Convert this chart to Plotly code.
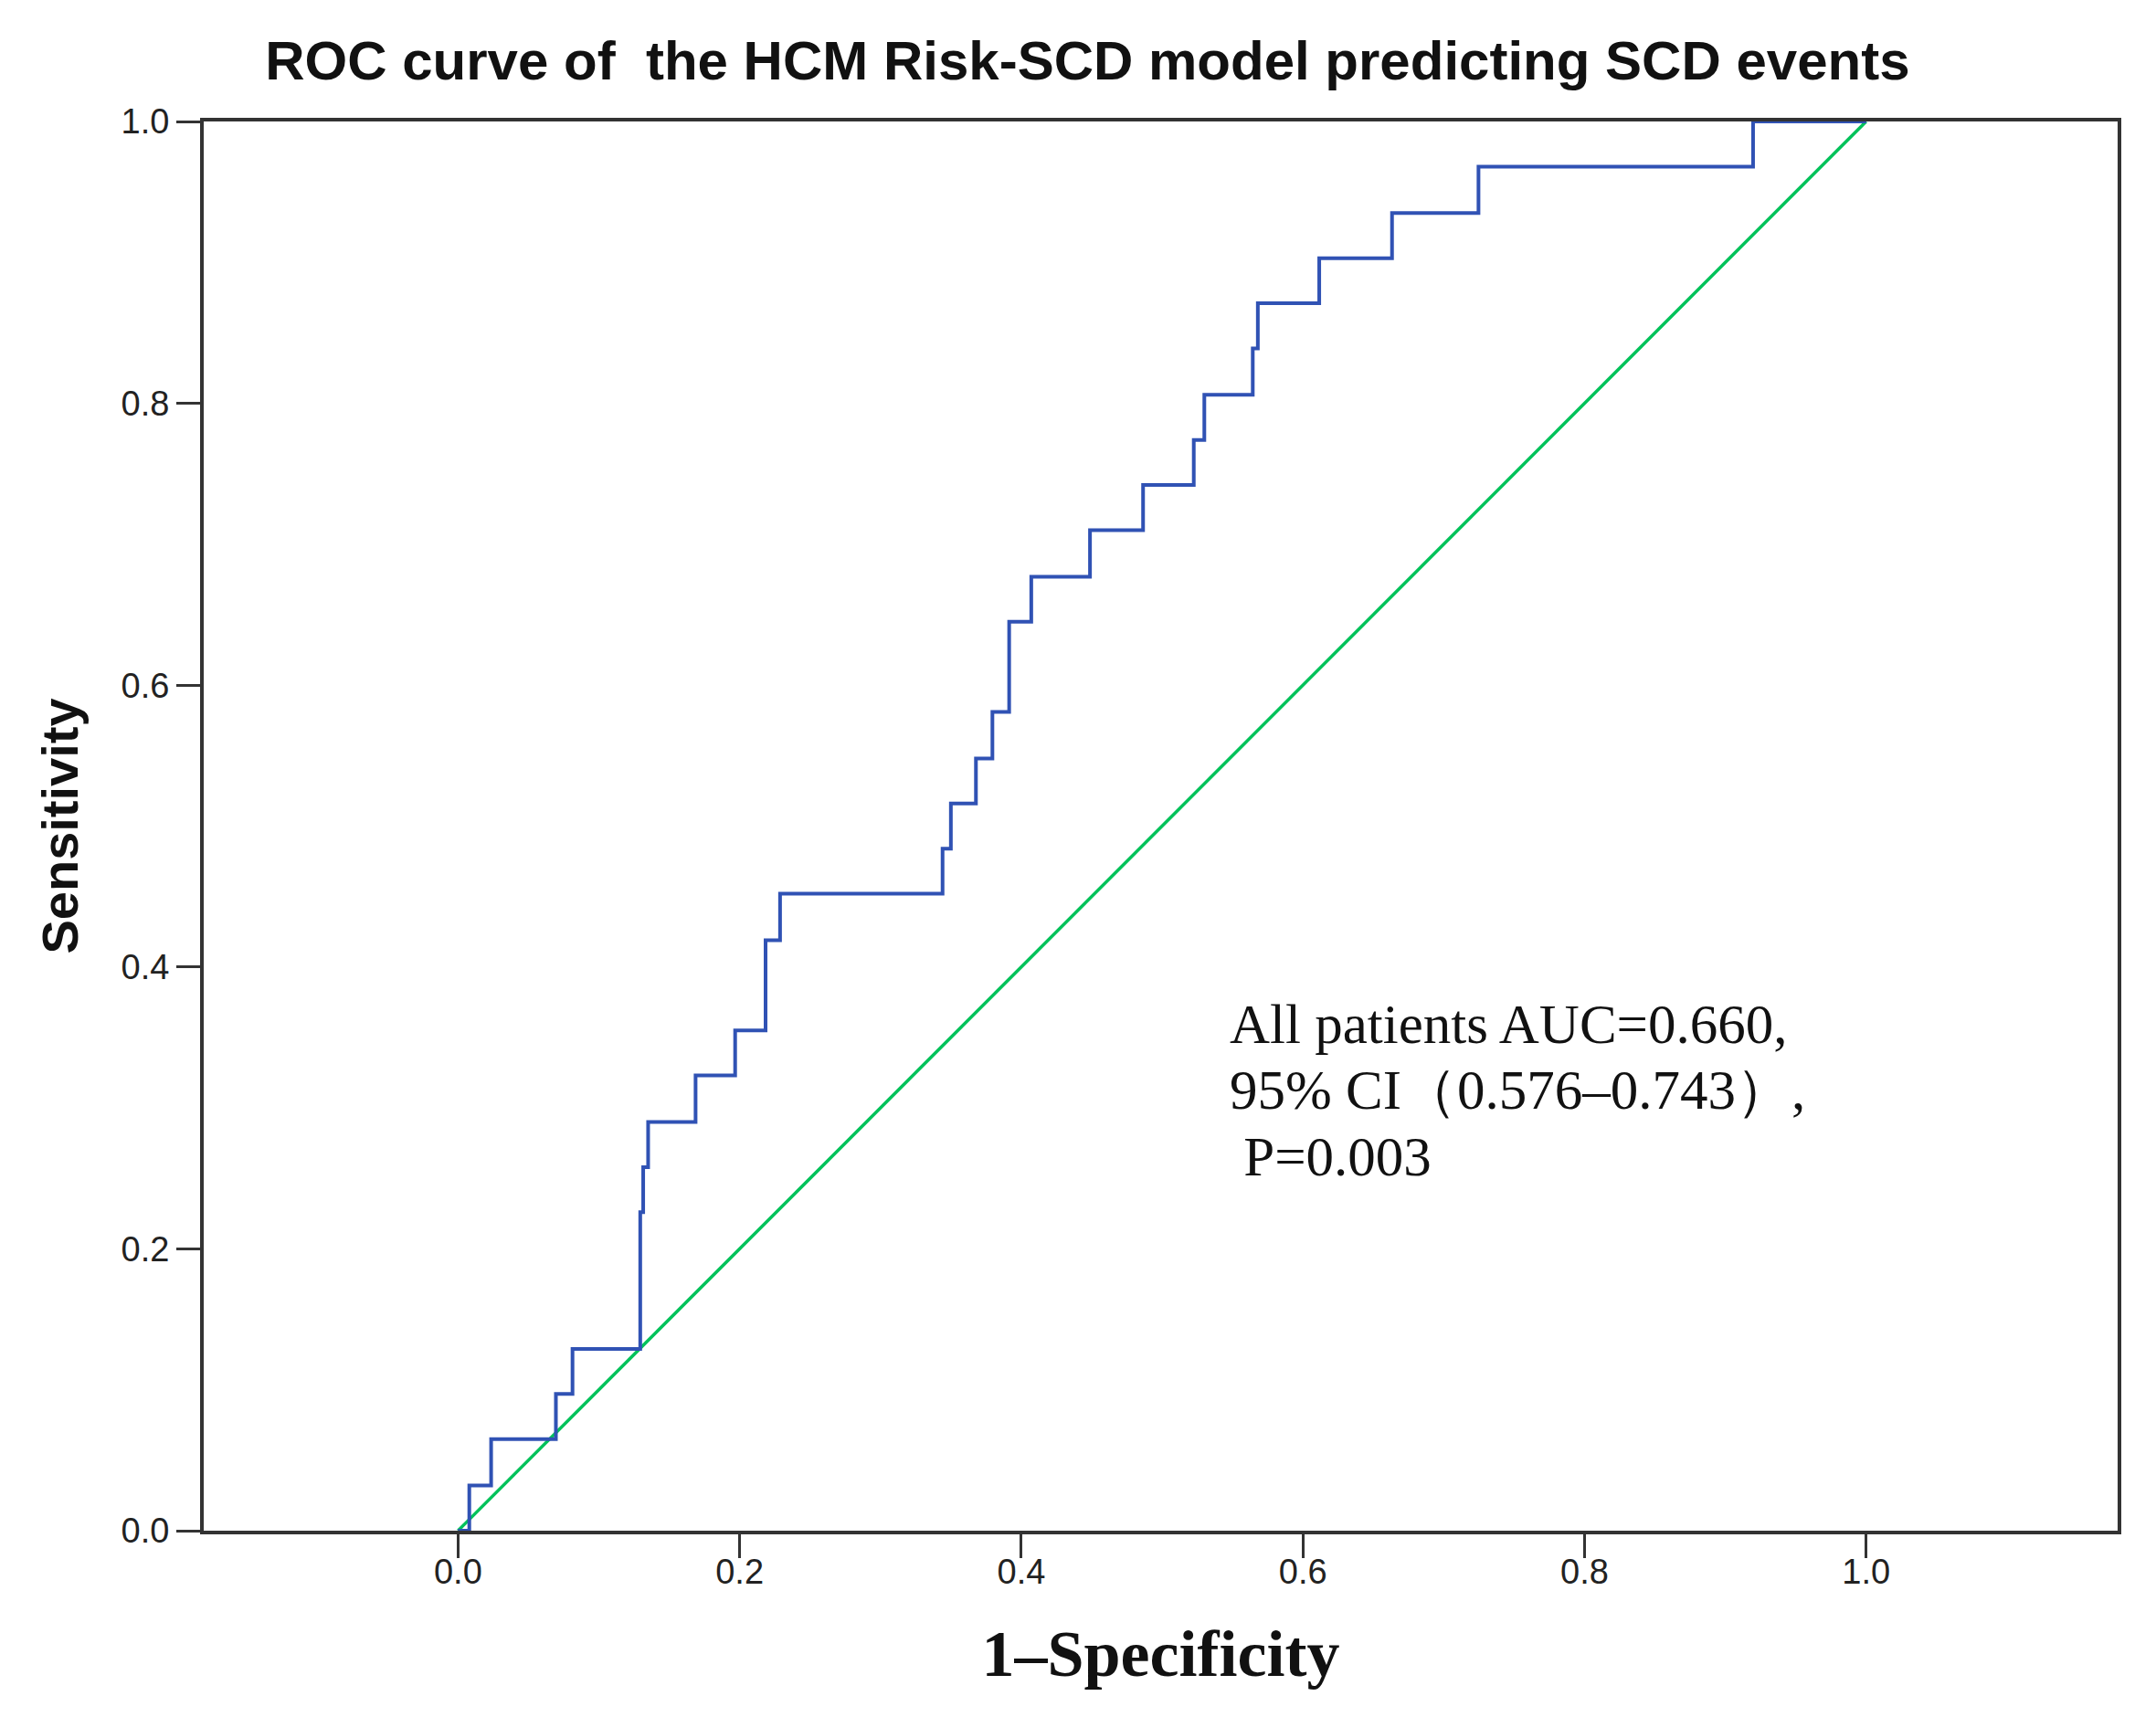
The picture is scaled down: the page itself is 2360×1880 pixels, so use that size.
import plotly.graph_objects as go

# ROC step curve (1 - specificity vs sensitivity)
fpr = [0.0, 0.008, 0.0235, 0.0695, 0.0813, 0.1294, 0.1315, 0.135, 0.1687,
       0.1968, 0.2184, 0.2287, 0.3441, 0.350, 0.3678, 0.3795, 0.3914, 0.4071,
       0.4488, 0.4865, 0.5225, 0.530, 0.5644, 0.568, 0.6116, 0.6633, 0.7247,
       0.9197, 1.0]
tpr = [0.0, 0.032, 0.065, 0.097, 0.129, 0.226, 0.258, 0.290, 0.323,
       0.355, 0.419, 0.452, 0.484, 0.516, 0.548, 0.581, 0.645, 0.677,
       0.710, 0.742, 0.774, 0.806, 0.839, 0.871, 0.903, 0.935, 0.968,
       1.0, 1.0]

# chance line
ref_x = [0.0, 1.0]
ref_y = [0.0, 1.0]

ticks = [0.0, 0.2, 0.4, 0.6, 0.8, 1.0]
tick_text = ['0.0', '0.2', '0.4', '0.6', '0.8', '1.0']

title = 'ROC curve of  the HCM Risk-SCD model predicting SCD events'
note_lines = ['All patients AUC=0.660,',
              '95% CI（0.576–0.743）,',
              '\u00a0P=0.003']
note_y = [0.3595, 0.3125, 0.2655]

fig = go.Figure()

fig.add_trace(go.Scatter(x=ref_x, y=ref_y, mode='lines',
                         line=dict(color='#00c25a', width=3.5),
                         showlegend=False))
fig.add_trace(go.Scatter(x=fpr, y=tpr, mode='lines',
                         line=dict(color='#3052b4', width=4, shape='hv'),
                         showlegend=False))

# AUC text block, one annotation per line to keep the tight line spacing
for line, yy in zip(note_lines, note_y):
    fig.add_annotation(x=0.5465, y=yy, xref='x', yref='y',
                       text=line, showarrow=False,
                       xanchor='left', yanchor='middle', align='left',
                       font=dict(family='Liberation Serif, Times New Roman, serif',
                                 size=61, color='#111111'))

axis_common = dict(
    showline=True, linecolor='#333333', linewidth=4, mirror=True,
    showgrid=False, zeroline=False,
    ticks='outside', ticklen=26, tickwidth=3, tickcolor='#333333',
    tickvals=ticks, ticktext=tick_text,
    tickfont=dict(family='Liberation Sans, Arial, sans-serif', size=38,
                  color='#222222'),
)

fig.update_layout(
    width=2360, height=1880,
    margin=dict(l=215, r=50, t=125, b=212),
    plot_bgcolor='white', paper_bgcolor='white',
    title=dict(text=title, x=0.501, xref='container', xanchor='center',
               y=0.969, yref='container', yanchor='middle',
               font=dict(family='Liberation Sans, Arial, sans-serif',
                         size=60, weight='bold', color='#111111')),
    xaxis=dict(range=[-0.1806, 1.1786], ticklabelstandoff=-18,
               title=dict(text='1–Specificity', standoff=45,
                          font=dict(family='Liberation Serif, Times New Roman, serif',
                                    size=72, weight='bold', color='#111111')),
               **axis_common),
    yaxis=dict(range=[0, 1],
               title=dict(text='Sensitivity', standoff=30,
                          font=dict(family='Liberation Sans, Arial, sans-serif',
                                    size=56, weight='bold', color='#111111')),
               **axis_common),
)

fig.write_html('out.html')
